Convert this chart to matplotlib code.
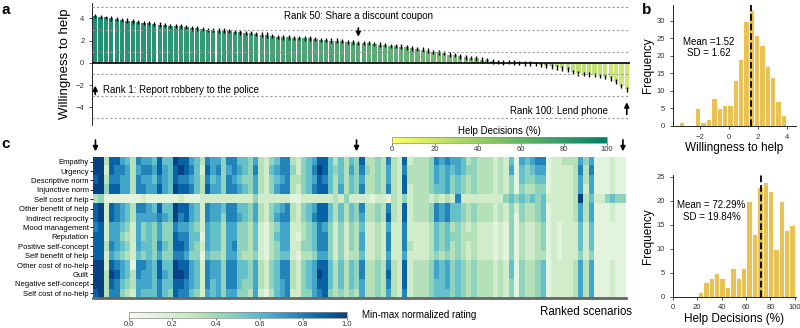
import numpy as np
import matplotlib
matplotlib.use('Agg')
import matplotlib.pyplot as plt
from matplotlib import cm, colors

plt.rcParams['font.family'] = ['Liberation Sans', 'DejaVu Sans']

# panel a: mean willingness to help per ranked scenario
willingness = [4.25, 4.15, 4.1, 4.0, 3.95, 3.9, 3.8, 3.75, 3.7, 3.6,
               3.6, 3.5, 3.45, 3.4, 3.35, 3.3, 3.3, 3.2, 3.1, 3.1,
               3.05, 3.0, 2.95, 2.9, 2.9, 2.85, 2.8, 2.75, 2.7, 2.7,
               2.6, 2.55, 2.5, 2.4, 2.35, 2.3, 2.3, 2.25, 2.25, 2.2,
               2.2, 2.15, 2.1, 2.05, 2.0, 2.0, 1.95, 1.9, 1.85, 1.8,
               1.8, 1.75, 1.7, 1.65, 1.6, 1.55, 1.5, 1.45, 1.4, 1.3,
               1.25, 1.2, 1.1, 1.0, 0.95, 0.85, 0.75, 0.7, 0.6, 0.5,
               0.45, 0.4, 0.3, 0.25, 0.15, 0.1, 0.05, 0.05, 0.02, -0.02,
               -0.05, -0.05, -0.1, -0.2, -0.25, -0.3, -0.4, -0.5, -0.6, -0.8,
               -0.95, -1.0, -1.05, -1.1, -1.2, -1.3, -1.4, -1.7, -2.1, -2.4]
willingness_err = [0.18, 0.2, 0.15, 0.22, 0.2, 0.18, 0.25, 0.22, 0.2, 0.18,
                   0.2, 0.18, 0.22, 0.2, 0.17, 0.2, 0.22, 0.18, 0.2, 0.19,
                   0.2, 0.18, 0.2, 0.22, 0.2, 0.18, 0.2, 0.21, 0.2, 0.19,
                   0.22, 0.2, 0.25, 0.2, 0.18, 0.2, 0.22, 0.2, 0.19, 0.2,
                   0.2, 0.22, 0.18, 0.2, 0.2, 0.21, 0.19, 0.2, 0.22, 0.2,
                   0.2, 0.18, 0.2, 0.22, 0.2, 0.19, 0.2, 0.21, 0.2, 0.2,
                   0.2, 0.22, 0.2, 0.19, 0.2, 0.18, 0.2, 0.2, 0.21, 0.2,
                   0.2, 0.19, 0.2, 0.2, 0.22, 0.2, 0.2, 0.18, 0.2, 0.2,
                   0.2, 0.2, 0.22, 0.2, 0.2, 0.21, 0.2, 0.22, 0.2, 0.2,
                   0.22, 0.2, 0.2, 0.22, 0.2, 0.2, 0.22, 0.2, 0.2, 0.2]
help_pct = [97, 96, 95, 96, 94, 95, 93, 94, 92, 93,
            92, 93, 91, 90, 92, 90, 89, 90, 88, 89,
            88, 87, 88, 86, 87, 85, 86, 84, 85, 83,
            84, 82, 83, 81, 82, 80, 81, 79, 80, 78,
            79, 77, 78, 76, 77, 75, 76, 74, 75, 73,
            74, 72, 71, 72, 70, 69, 70, 68, 66, 67,
            65, 64, 62, 63, 60, 59, 58, 57, 55, 54,
            52, 51, 50, 48, 47, 45, 44, 42, 41, 40,
            38, 37, 36, 35, 34, 33, 32, 31, 30, 29,
            28, 27, 27, 26, 25, 24, 23, 22, 21, 20]

# panel c: normalized ratings (0-9 scale, one digit per scenario)
factors = ['Empathy', 'Urgency', 'Descriptive norm', 'Injunctive norm',
           'Self cost of help', 'Other benefit of help', 'Indirect reciprocity',
           'Mood management', 'Reputation', 'Positive self-concept',
           'Self benefit of help', 'Other cost of no-help', 'Guilt',
           'Negative self-concept', 'Self cost of no-help']
ratings = [
    '9938865376' '6585598865' '3766477554' '6324577324' '5688535354'
    '8334373282' '3334767665' '3433323251' '6567712233' '3646111211',
    '9928776367' '7686589875' '2867467654' '7325677424' '5798545364'
    '7434363273' '3334656565' '4433323261' '5456612222' '3737111211',
    '8937766376' '6576587765' '3756476544' '6324567334' '5687535354'
    '6334363283' '3334656454' '3433323241' '5445512222' '3636111211',
    '9948866377' '6686598875' '3866477654' '6324677324' '5788536354'
    '7334373282' '3334556454' '3433323241' '4334412222' '3626111211',
    '3411111112' '1111112111' '2222222222' '4222222112' '2222232422'
    '2212213242' '3332323272' '2222222454' '5454522222' '3935224544',
    '8928765377' '6585598865' '2766577554' '6324567324' '5688535354'
    '7334373282' '3334767554' '3433323242' '4334512222' '3636111211',
    '8928765366' '6676597865' '2766477654' '6324677324' '5788535354'
    '6334383282' '3334767554' '3433323241' '4334512222' '3636111211',
    '7826654264' '5464476654' '2655366443' '5213466223' '4576424243'
    '5223262272' '2223545343' '2322212141' '3223412122' '2525111111',
    '8826643264' '5464487755' '1655366443' '5213566213' '4577424243'
    '6223272272' '2223545443' '3322212141' '3223412122' '2525111111',
    '8837654265' '5475488754' '2655367443' '5213466224' '4577424243'
    '6223272273' '2223545343' '2322212141' '3223412122' '2525111111',
    '8826543254' '5464477644' '1544366433' '4213455213' '3466424233'
    '5223262262' '2223434343' '2322212141' '3223312122' '2424111111',
    '9928765177' '6585598865' '2766477554' '6324577324' '5688535354'
    '7334373282' '3334656454' '3433323251' '4334512222' '3636111211',
    '9939865376' '6586599865' '2766477554' '6324577324' '5698535354'
    '7334383282' '3334656454' '3433323251' '4334512222' '3636111211',
    '9938754366' '6575588765' '2756477544' '6324567324' '5688535354'
    '6334373282' '3334556454' '3433323241' '4334512222' '3636111211',
    '8937743265' '5575487754' '2656466443' '6213567224' '4678434343'
    '6334363272' '3334555454' '3433323241' '4334512222' '3636111211',
]

# panel b: histograms
will_hist_start, will_hist_width = -3.44, 0.37
will_hist_counts = [1, 0, 0, 5, 1, 2, 8, 5, 6, 6, 13, 19, 30, 33, 26, 23, 17, 14, 7, 3]
will_mean, will_sd = 1.52, 1.62
help_hist_start, help_hist_width = 20.5, 4.42
help_hist_counts = [1, 3, 4, 5, 4, 2, 6, 4, 6, 20, 13, 23, 24, 22, 10, 20, 14, 15]
help_mean, help_sd = 72.29, 19.84

hist_color = '#e8c255'
tick_kw = dict(labelsize=5.5, length=2, width=0.6, colors='#333333')

fig = plt.figure(figsize=(8, 3.28), dpi=100)

# ---- panel a
ax_a = fig.add_axes([0.115, 0.619, 0.6725, 0.372])
ranks = np.arange(len(willingness))
help_norm = colors.Normalize(0, 100)
help_cmap = plt.get_cmap('summer_r')
ax_a.bar(ranks, willingness, width=0.8, color=help_cmap(help_norm(help_pct)), alpha=0.9, zorder=2)
ax_a.errorbar(ranks, willingness, yerr=willingness_err, fmt='none', ecolor='black',
              elinewidth=1, zorder=3)
for y in [-5, -3, -1, 1, 3, 5]:
    ax_a.axhline(y, color='#9a9a9a', ls=(0, (2, 2)), lw=0.8, zorder=4)
ax_a.axhline(0, color='black', lw=1.2, zorder=5)
ax_a.set_xlim(-0.6, 99.6)
ax_a.set_ylim(-5.6, 5.4)
ax_a.set_xticks([])
ax_a.set_yticks([-4, -2, 0, 2, 4])
ax_a.tick_params(axis='y', **tick_kw)
for s in ['top', 'right', 'bottom']:
    ax_a.spines[s].set_visible(False)
ax_a.spines['left'].set_linewidth(0.6)
ax_a.set_ylabel('Willingness to help', fontsize=9.5, labelpad=3)

arrow_kw = dict(arrowstyle='-|>', color='black', lw=1.2, mutation_scale=7)
ax_a.annotate('', xy=(0, -1.8), xytext=(0, -3.1), arrowprops=arrow_kw)
ax_a.text(1.4, -2.45, 'Rank 1: Report robbery to the police', va='center', fontsize=7)
ax_a.annotate('', xy=(49, 2.1), xytext=(49, 3.4), arrowprops=arrow_kw)
ax_a.text(49, 4.2, 'Rank 50: Share a discount coupon', ha='center', va='center', fontsize=7)
ax_a.annotate('', xy=(99, -3.3), xytext=(99, -4.9), arrowprops=arrow_kw, annotation_clip=False)
ax_a.text(95.5, -4.3, 'Rank 100: Lend phone', ha='right', va='center', fontsize=7)

# ---- panel c
ax_c = fig.add_axes([0.116, 0.0915, 0.666, 0.43])
data = np.array([[int(ch) for ch in row] for row in ratings]) / 9
ax_c.imshow(data, cmap='GnBu', aspect='auto', vmin=0, vmax=1, interpolation='nearest')
ax_c.set_yticks(range(len(factors)))
ax_c.set_yticklabels(factors)
ax_c.set_xticks([])
ax_c.tick_params(axis='y', labelsize=5.5, length=2, width=0.6, pad=1)
for s in ['top', 'right', 'left']:
    ax_c.spines[s].set_visible(False)
ax_c.spines['bottom'].set_color('#666666')
ax_c.spines['bottom'].set_linewidth(2)
for r in [0, 49, 99]:
    ax_c.annotate('', xy=(r, -0.8), xytext=(r, -2.6), arrowprops=arrow_kw, annotation_clip=False)
fig.text(632 / 800, 1 - 312 / 328, 'Ranked scenarios', ha='right', va='center', fontsize=8.3)

cax1 = fig.add_axes([0.49, 0.564, 0.269, 0.018])
cb1 = fig.colorbar(cm.ScalarMappable(norm=help_norm, cmap=help_cmap), cax=cax1,
                   orientation='horizontal')
cb1.set_ticks([0, 20, 40, 60, 80, 100])
cb1.ax.tick_params(labelsize=5.5, length=1.5, width=0.5, pad=1, colors='#333333')
cb1.outline.set_linewidth(0.5)
cb1.outline.set_edgecolor('#888888')
cax1.set_title('Help Decisions (%)', fontsize=7, pad=2)

cax2 = fig.add_axes([0.161, 0.0305, 0.2725, 0.018])
cb2 = fig.colorbar(cm.ScalarMappable(norm=colors.Normalize(0, 1), cmap='GnBu'), cax=cax2,
                   orientation='horizontal')
cb2.set_ticks([0, 0.2, 0.4, 0.6, 0.8, 1.0])
cb2.ax.set_xticklabels(['0.0', '0.2', '0.4', '0.6', '0.8', '1.0'])
cb2.ax.tick_params(labelsize=5.5, length=1.5, width=0.5, pad=1, colors='#333333')
cb2.outline.set_linewidth(0.5)
cb2.outline.set_edgecolor('#888888')
fig.text(362 / 800, 1 - 315 / 328, 'Min-max normalized rating', va='center', fontsize=7)

# ---- panel b
ax_b1 = fig.add_axes([0.841, 0.616, 0.154, 0.369])
edges1 = will_hist_start + will_hist_width * np.arange(len(will_hist_counts))
ax_b1.bar(edges1, will_hist_counts, width=will_hist_width, align='edge', color=hist_color,
          edgecolor='white', linewidth=0.6)
ax_b1.axvline(will_mean, color='black', ls='--', lw=1.3)
ax_b1.text(-1.38, 22.4, f'Mean ={will_mean:.2f}\nSD = {will_sd:.2f}', ha='center',
           va='center', fontsize=7)
ax_b1.set_xlim(-3.87, 4.64)
ax_b1.set_ylim(0, 34.5)
ax_b1.set_xticks([-2, 0, 2, 4])
ax_b1.set_yticks([0, 5, 10, 15, 20, 25, 30])
ax_b1.set_xlabel('Willingness to help', fontsize=8.5, labelpad=1)
ax_b1.set_ylabel('Frequency', fontsize=8.5, labelpad=2)

ax_b2 = fig.add_axes([0.841, 0.0954, 0.154, 0.371])
edges2 = help_hist_start + help_hist_width * np.arange(len(help_hist_counts))
ax_b2.bar(edges2, help_hist_counts, width=help_hist_width, align='edge', color=hist_color,
          edgecolor='white', linewidth=0.6)
ax_b2.axvline(help_mean, color='black', ls='--', lw=1.3)
ax_b2.text(31.8, 17.9, f'Mean = {help_mean:.2f}%\nSD = {help_sd:.2f}%', ha='center',
           va='center', fontsize=7)
ax_b2.set_xlim(0, 101)
ax_b2.set_ylim(0, 25.4)
ax_b2.set_xticks([0, 20, 40, 60, 80, 100])
ax_b2.set_yticks([0, 5, 10, 15, 20, 25])
ax_b2.set_xlabel('Help Decisions (%)', fontsize=8.5, labelpad=1)
ax_b2.set_ylabel('Frequency', fontsize=8.5, labelpad=2)

for ax in [ax_b1, ax_b2]:
    ax.tick_params(**tick_kw)
    for s in ['top', 'right']:
        ax.spines[s].set_visible(False)
    for s in ['left', 'bottom']:
        ax.spines[s].set_linewidth(0.6)

fig.text(0.002, 0.99, 'a', fontsize=11, fontweight='bold', va='top')
fig.text(0.802, 0.99, 'b', fontsize=11, fontweight='bold', va='top')
fig.text(0.002, 1 - 144 / 328, 'c', fontsize=11, fontweight='bold', va='center')

fig.savefig('out.png', dpi=100)
